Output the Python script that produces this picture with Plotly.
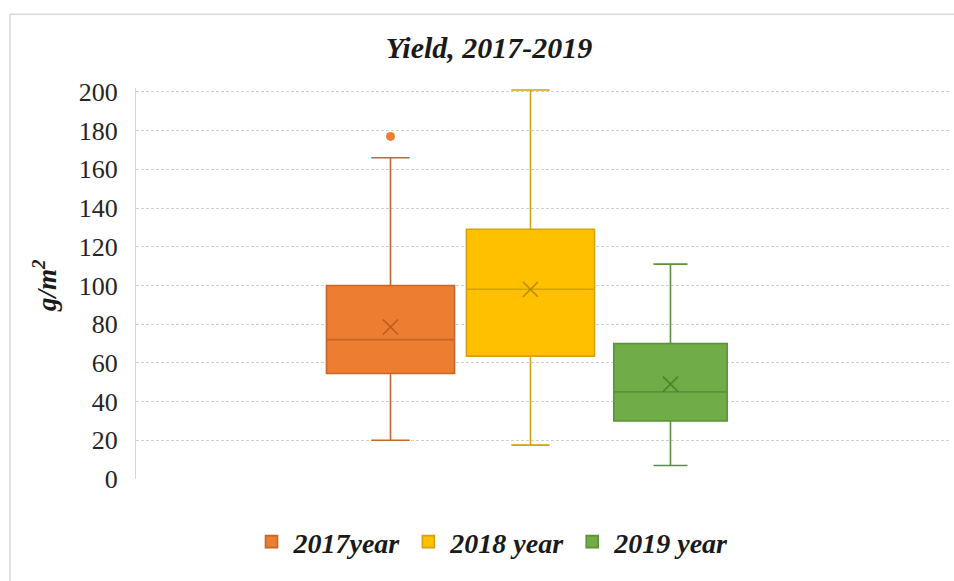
import plotly.graph_objects as go

categories = ["2017year", "2018 year", "2019 year"]
q1 = [54.5, 63.5, 30.0]
median = [72.0, 98.0, 45.0]
q3 = [100.0, 129.0, 70.0]
lower = [20.0, 17.5, 7.0]
upper = [166.0, 201.0, 111.0]
means = [78.5, 98.0, 49.0]
outlier_cat = ["2017year"]
outlier_val = [177.0]
y_ticks = [0, 20, 40, 60, 80, 100, 120, 140, 160, 180, 200]

fills = ["#ED7D31", "#FFC000", "#70AD47"]
lines = ["#C8652A", "#D4A20A", "#5A9139"]
xcolors = ["rgba(170,80,30,0.75)", "rgba(170,130,0,0.75)", "rgba(70,120,40,0.8)"]
widths = [0.915, 0.915, 0.81]

SERIF = "Liberation Serif"
fig = go.Figure()
for i, c in enumerate(categories):
    fig.add_trace(go.Box(
        name=c, x=[c], q1=[q1[i]], median=[median[i]], q3=[q3[i]],
        lowerfence=[lower[i]], upperfence=[upper[i]],
        fillcolor=fills[i], line=dict(color=lines[i], width=1.6),
        width=widths[i], whiskerwidth=0.3, boxpoints=False, hoverinfo="skip",
    ))
for i, c in enumerate(categories):
    fig.add_trace(go.Scatter(
        x=[c], y=[means[i]], mode="markers", showlegend=False, hoverinfo="skip",
        marker=dict(symbol="x-thin", size=15, line=dict(color=xcolors[i], width=1.6)),
    ))
fig.add_trace(go.Scatter(
    x=outlier_cat, y=outlier_val, mode="markers", showlegend=False, hoverinfo="skip",
    marker=dict(symbol="circle", size=9, color=fills[0]),
))

YMAX = 202.0
W, H = 954, 581
y0px = 479.0
pxu = (479.0 - 91.7) / 200.0
ytop = y0px - YMAX * pxu
L, R, T, B = 136, 3, ytop, H - y0px
pw, ph = W - L - R, H - T - B

def px(x):
    return (x - L) / pw

def py(y):
    return (H - B - y) / ph

fig.update_layout(
    width=W, height=H,
    margin=dict(l=L, r=R, t=T, b=B, autoexpand=False),
    paper_bgcolor="white", plot_bgcolor="white",
    boxmode="overlay",
    title=dict(text="<b><i>Yield, 2017-2019</i></b>", x=px(489), xref="paper", xanchor="center",
               y=1 - 47 / H, yanchor="middle",
               font=dict(family=SERIF, size=30, color="#1a1a1a")),
    showlegend=True,
    legend=dict(orientation="h", x=px(492), xanchor="center", y=py(542), yanchor="middle",
                font=dict(family=SERIF, size=28, color="#1a1a1a", style="italic", weight="bold"),
                itemwidth=34, traceorder="normal"),
    xaxis=dict(type="category", categoryorder="array", categoryarray=categories,
               range=[-1.818, 4.004], showticklabels=False, showgrid=False,
               zeroline=False, showline=False, ticks="", automargin=False),
    yaxis=dict(range=[0, YMAX], tickvals=y_ticks, showgrid=True, gridcolor="#D0D0D0",
               griddash="3px,2px", gridwidth=1, zeroline=False,
               showline=True, linecolor="#D4D4D4", linewidth=1,
               tickfont=dict(family=SERIF, size=26, color="#262626"),
               ticks="", ticklabelstandoff=12, automargin=False),
    annotations=[dict(text="<b><i>g/m<sup>2</sup></i></b>", xref="paper", yref="paper",
                      x=px(45), y=py(286), textangle=-90, showarrow=False,
                      xanchor="center", yanchor="middle",
                      font=dict(family=SERIF, size=27, color="#1a1a1a"))],
    shapes=[dict(type="rect", xref="paper", yref="paper",
                 x0=px(10), x1=px(960), y0=py(590), y1=py(14),
                 line=dict(color="#D9D9D9", width=1.5), fillcolor="rgba(0,0,0,0)", layer="below")],
)

fig.write_html("out.html", config={"displayModeBar": False},
               post_script="document.body.style.margin='0';document.body.style.overflow='hidden';")
